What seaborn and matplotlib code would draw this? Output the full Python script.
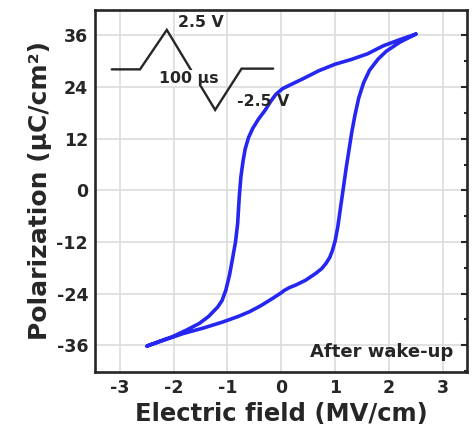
import matplotlib
matplotlib.use("Agg")
import matplotlib.pyplot as plt
from matplotlib.ticker import MultipleLocator
import numpy as np
import pandas as pd
import seaborn as sns

# P-E hysteresis loop after wake-up cycling
# branch swept from +2.5 MV/cm down to -2.5 MV/cm
field_down = [2.50, 2.20, 1.90, 1.60, 1.30, 1.00, 0.70, 0.40, 0.20, 0.02,
              -0.10, -0.20, -0.30, -0.42, -0.53, -0.61, -0.67, -0.71, -0.75,
              -0.78, -0.81, -0.85, -0.90, -0.96, -1.03, -1.10, -1.18, -1.35,
              -1.52, -1.75, -2.02, -2.25, -2.50]
pol_down = [36.3, 35.0, 33.6, 31.7, 30.4, 29.3, 27.8, 25.9, 24.7, 23.6,
            22.3, 20.6, 18.6, 16.6, 14.4, 12.2, 9.6, 6.8, 3.1,
            -1.5, -7.7, -12.0, -15.5, -19.6, -23.2, -25.6, -27.1, -29.3,
            -30.9, -32.4, -34.0, -35.0, -36.2]

# branch swept from -2.5 MV/cm back up to +2.5 MV/cm
field_up = [-2.50, -2.20, -1.83, -1.45, -1.09, -0.80, -0.59, -0.38, -0.16,
            0.00, 0.05, 0.15, 0.27, 0.45, 0.64, 0.75, 0.83, 0.90, 0.95, 1.00,
            1.05, 1.09, 1.13, 1.17, 1.21, 1.26, 1.31, 1.37, 1.44, 1.53, 1.64,
            1.80, 1.95, 2.20, 2.50]
pol_up = [-36.2, -34.9, -33.3, -32.0, -30.6, -29.3, -28.2, -26.8, -25.1,
          -23.8, -23.3, -22.6, -22.0, -20.9, -19.3, -18.2, -17.0, -15.6, -14.0,
          -11.8, -8.5, -5.0, -1.5, 2.0, 5.5, 9.5, 13.5, 17.5, 21.5, 25.0, 27.9,
          30.5, 32.3, 34.4, 36.3]

x_ticks = [-3, -2, -1, 0, 1, 2, 3]
y_ticks = [-36, -24, -12, 0, 12, 24, 36]

pulse_high = "2.5 V"
pulse_low = "-2.5 V"
pulse_width = "100 µs"
state_label = "After wake-up"

sns.set_theme(style="white")
plt.rcParams.update({
    "font.family": ["DejaVu Sans"],
    "font.weight": "bold",
    "axes.labelweight": "bold",
    "axes.unicode_minus": False,
    "axes.linewidth": 1.9,
    "axes.edgecolor": "#262626",
    "xtick.color": "#262626",
    "ytick.color": "#262626",
    "text.color": "#262626",
})

loop = pd.DataFrame({
    "E": field_down + field_up,
    "P": pol_down + pol_up,
})

fig = plt.figure(figsize=(4.72, 4.42), dpi=100)
ax = fig.add_axes([0.2013, 0.1584, 0.788, 0.819])

sns.lineplot(data=loop, x="E", y="P", sort=False, estimator=None,
             color="#2626f2", linewidth=2.6, ax=ax, zorder=3,
             solid_joinstyle="round", solid_capstyle="round")

ax.set_xlim(-3.46, 3.45)
ax.set_ylim(-42.2, 41.9)
ax.set_xticks(x_ticks)
ax.set_yticks(y_ticks)
ax.set_xticklabels([str(t) for t in x_ticks])
ax.set_yticklabels([str(t) for t in y_ticks])
ax.xaxis.set_minor_locator(MultipleLocator(0.5))
ax.yaxis.set_minor_locator(MultipleLocator(6))
ax.grid(True, which="major", color="#dcdcdc", linewidth=1.2, zorder=0)
ax.set_axisbelow(True)

ax.tick_params(which="both", direction="in", top=False, right=True,
               labelsize=12.5, width=1.5, pad=5)
ax.tick_params(which="major", length=4)
ax.tick_params(which="minor", length=2.5)
for lab in ax.get_xticklabels() + ax.get_yticklabels():
    lab.set_fontweight("bold")

ax.set_xlabel("Electric field (MV/cm)", fontsize=17.5, fontweight="bold", labelpad=4)
ax.set_ylabel("Polarization (µC/cm²)", fontsize=18, fontweight="bold", labelpad=3)

# bipolar pulse sketch in the upper-left corner
wave_x = [0.045, 0.121, 0.193, 0.323, 0.394, 0.479]
wave_y = [0.836, 0.836, 0.945, 0.724, 0.838, 0.838]
ax.plot(wave_x, wave_y, transform=ax.transAxes, color="#262626",
        linewidth=1.7, zorder=4, solid_joinstyle="miter")
ax.text(0.223, 0.965, pulse_high, transform=ax.transAxes, fontsize=11.3,
        fontweight="bold", ha="left", va="center", zorder=5)
ax.text(0.253, 0.812, pulse_width, transform=ax.transAxes, fontsize=11.3,
        fontweight="bold", ha="center", va="center", zorder=5,
        bbox=dict(facecolor="white", edgecolor="none", pad=0.5))
ax.text(0.382, 0.747, pulse_low, transform=ax.transAxes, fontsize=11.3,
        fontweight="bold", ha="left", va="center", zorder=5)

ax.text(0.962, 0.055, state_label, transform=ax.transAxes, fontsize=13,
        fontweight="bold", ha="right", va="center", zorder=5)

fig.savefig("out.png", dpi=100)
